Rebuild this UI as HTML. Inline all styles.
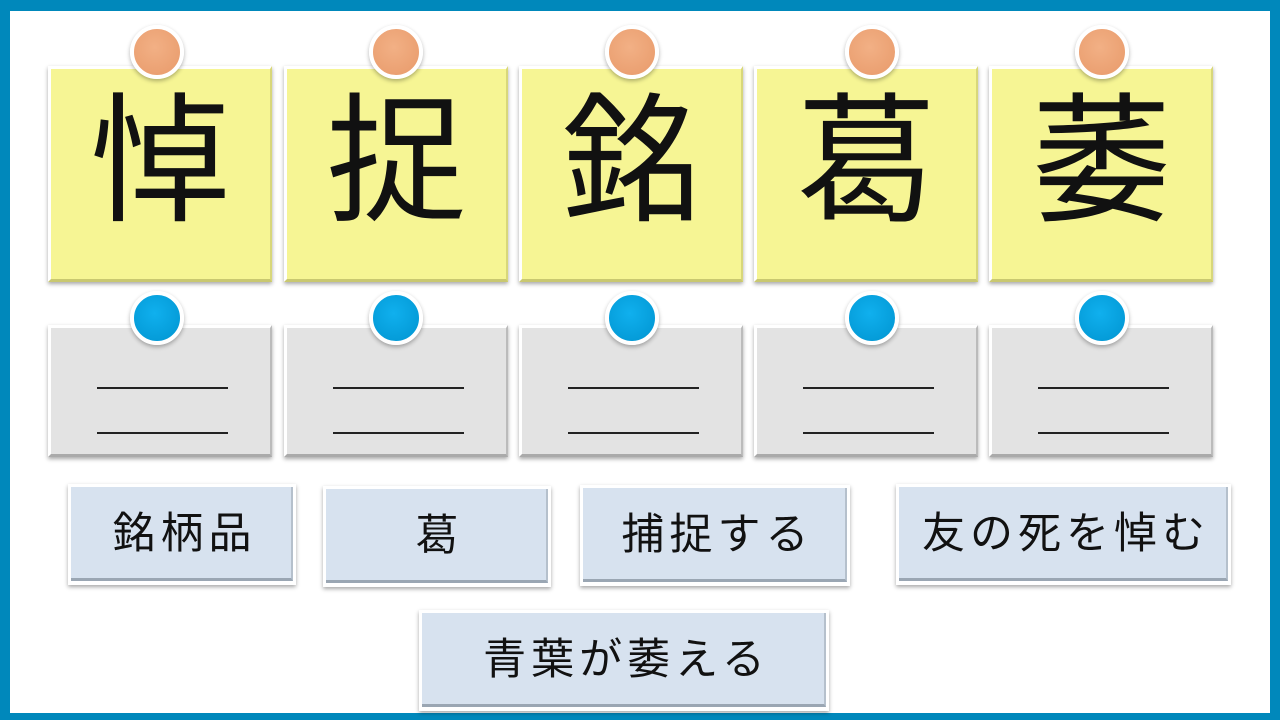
<!DOCTYPE html>
<html><head><meta charset="utf-8"><style>
*{margin:0;padding:0;box-sizing:border-box}
body{width:1280px;height:720px;background:#0088bb;position:relative;overflow:hidden;font-family:"Liberation Sans","Noto Sans CJK JP",sans-serif}
#in{position:absolute;left:10px;top:11px;width:1260px;height:702px;background:#fff}
.c{position:absolute;border:3px solid #fff;box-shadow:0 2px 4px rgba(0,0,0,.35)}
.y{background:#f6f594;border-right:2px solid #d8d77a;border-bottom:3px solid #c9c870;top:66px;height:216px;width:224px;font-size:140px;line-height:186px;text-align:center;color:#111}
.g{background:#e3e3e3;top:325px;height:132px;width:224px;border-bottom:3px solid #aaa;border-right:2px solid #bbb}
.g::before,.g::after{content:"";position:absolute;left:46px;width:131px;height:2px;background:#222}
.g::before{top:59px}.g::after{top:104px}
.pin{position:absolute;width:54px;height:54px;border-radius:50%;border:4px solid #fff;box-shadow:0 2px 4px rgba(0,0,0,.3)}
.o{background:radial-gradient(circle at 45% 40%,#f2b085,#e89a6a);top:25px}
.b{background:radial-gradient(circle at 45% 40%,#10b0ee,#0094d0);top:291px}
.w{position:absolute;background:#d7e2ef;border:3px solid #fff;box-shadow:0 2px 4px rgba(0,0,0,.35);border-bottom:4px solid #fff;font-size:43px;letter-spacing:5px;text-indent:5px;text-align:center;color:#111;height:101px;line-height:94px}
.w::after{content:"";position:absolute;inset:0;border-right:2px solid #b5c0cc;border-bottom:3px solid #9aa6b3;pointer-events:none}
</style></head><body>
<div id="in"></div>
<div class="c y" style="left:48px">悼</div>
<div class="c y" style="left:284px">捉</div>
<div class="c y" style="left:519px">銘</div>
<div class="c y" style="left:754px">葛</div>
<div class="c y" style="left:989px">萎</div>
<div class="c g" style="left:48px"></div>
<div class="c g" style="left:284px"></div>
<div class="c g" style="left:519px"></div>
<div class="c g" style="left:754px"></div>
<div class="c g" style="left:989px"></div>
<div class="pin o" style="left:130px"></div>
<div class="pin o" style="left:369px"></div>
<div class="pin o" style="left:605px"></div>
<div class="pin o" style="left:845px"></div>
<div class="pin o" style="left:1075px"></div>
<div class="pin b" style="left:130px"></div>
<div class="pin b" style="left:369px"></div>
<div class="pin b" style="left:605px"></div>
<div class="pin b" style="left:845px"></div>
<div class="pin b" style="left:1075px"></div>
<div class="w" style="left:68px;top:484px;width:228px">銘柄品</div>
<div class="w" style="left:323px;top:486px;width:228px">葛</div>
<div class="w" style="left:580px;top:485px;width:270px">捕捉する</div>
<div class="w" style="left:896px;top:484px;width:335px">友の死を悼む</div>
<div class="w" style="left:419px;top:610px;width:410px">青葉が萎える</div>
</body></html>
